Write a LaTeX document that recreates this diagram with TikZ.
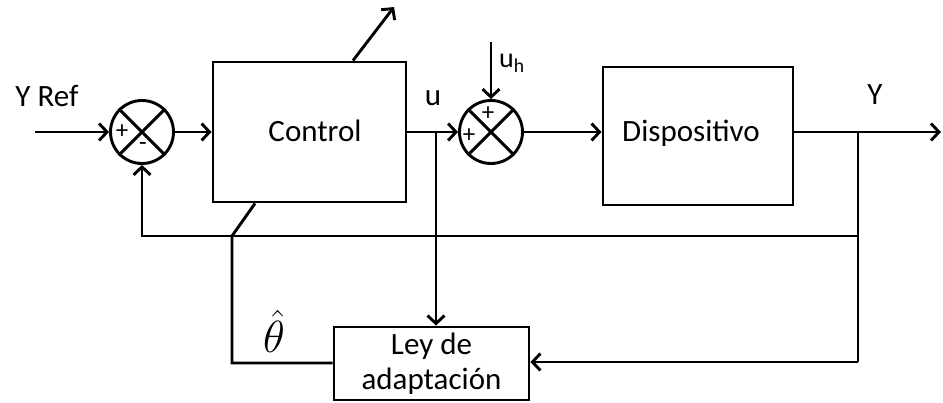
\RequirePackage{fix-cm}
\documentclass[tikz,border=0pt]{standalone}
\usepackage{fontspec}
\setmainfont{Carlito}
\usetikzlibrary{arrows.meta}
\begin{document}
\begin{tikzpicture}[x=1pt,y=-1pt,
  wire/.style={line width=2.9pt},
  arr/.style={wire,-{Straight Barb[length=8pt,width=17pt]}},
  blockbox/.style={draw,line width=2.9pt,inner sep=0pt,font=\fontsize{31}{35}\selectfont},
  sumnode/.style={draw,circle,line width=2.9pt,minimum size=63pt,inner sep=0pt},
  lbl/.style={font=\fontsize{31}{35}\selectfont,inner sep=0pt},
  sgn/.style={font=\fontsize{25}{25}\selectfont,inner sep=0pt}]
\useasboundingbox (0,0) rectangle (943,403);
% blocks
\node[blockbox,minimum width=193pt,minimum height=140pt] (ctrl) at (309.5,132) {};
\node[lbl,anchor=base] (ctrltxt) at (315,142) {Control};
\node[blockbox,minimum width=190pt,minimum height=138pt] (disp) at (698,136) {};
\node[lbl,anchor=base] (disptxt) at (691,142) {Dispositivo};
\node[blockbox,minimum width=195pt,minimum height=73pt,align=center] (ley) at (431.5,363.5) {Ley de\\adaptación};
% summing junctions
\node[sumnode] (s1) at (142,132) {};
\node[sumnode] (s2) at (491,132) {};
\draw[wire] (s1.north east) -- (s1.south west) (s1.north west) -- (s1.south east);
\draw[wire] (s2.north east) -- (s2.south west) (s2.north west) -- (s2.south east);
\node[sgn] (s1p) at (122,132) {+};
\node[sgn] (s1m) at (143,147) {-};
\node[sgn] (s2p1) at (488,114) {+};
\node[sgn] (s2p2) at (469,136) {+};
% labels
\node[lbl,anchor=base] (yref) at (47,107) {Y Ref};
\node[lbl,anchor=base] (ylab) at (875,105) {Y};
\node[lbl,anchor=base] (ulab) at (433,106) {u};
\node[lbl,anchor=base west,font=\fontsize{28}{30}\selectfont] (uhlab) at (499,68) {u\textsubscript{h}};
\node[lbl,anchor=base] (thlab) at (274,353) {\scalebox{1.45}{$\hat{\theta}$}};
% coordinates
\coordinate (in) at (35,132);
\coordinate (yout) at (941,132);
\coordinate (br) at (858,132);
\coordinate (fb) at (858,236);
\coordinate (bot) at (858,362);
\coordinate (ubr) at (436,132);
\coordinate (uh) at (491,42);
\coordinate (adj) at (394,7);
\coordinate (th1) at (232,236);
\coordinate (th2) at (232,363);
% connectors
\draw[arr] (in) -- (s1.west);
\draw[arr] (s1.east) -- (ctrl.west);
\draw[arr] (ctrl.east) -- (s2.west);
\draw[arr] (s2.east) -- (disp.west |- s2);
\draw[arr] (disp.east |- s2) -- (yout);
\draw[wire] (br) -- (bot);
\draw[arr] (bot) -- (ley.east |- bot);
\draw[arr] (fb) -- (s1 |- fb) -- (s1.south);
\draw[arr] (ubr) -- (ley.north -| ubr);
\draw[arr] (uh) -- (s2.north);
\draw[arr] ([xshift=43.5pt]ctrl.north) -- (adj);
\draw[wire] ([xshift=-54.5pt]ctrl.south) -- (th1) -- (th2) -- (ley.west |- th2);
\end{tikzpicture}
\end{document}
